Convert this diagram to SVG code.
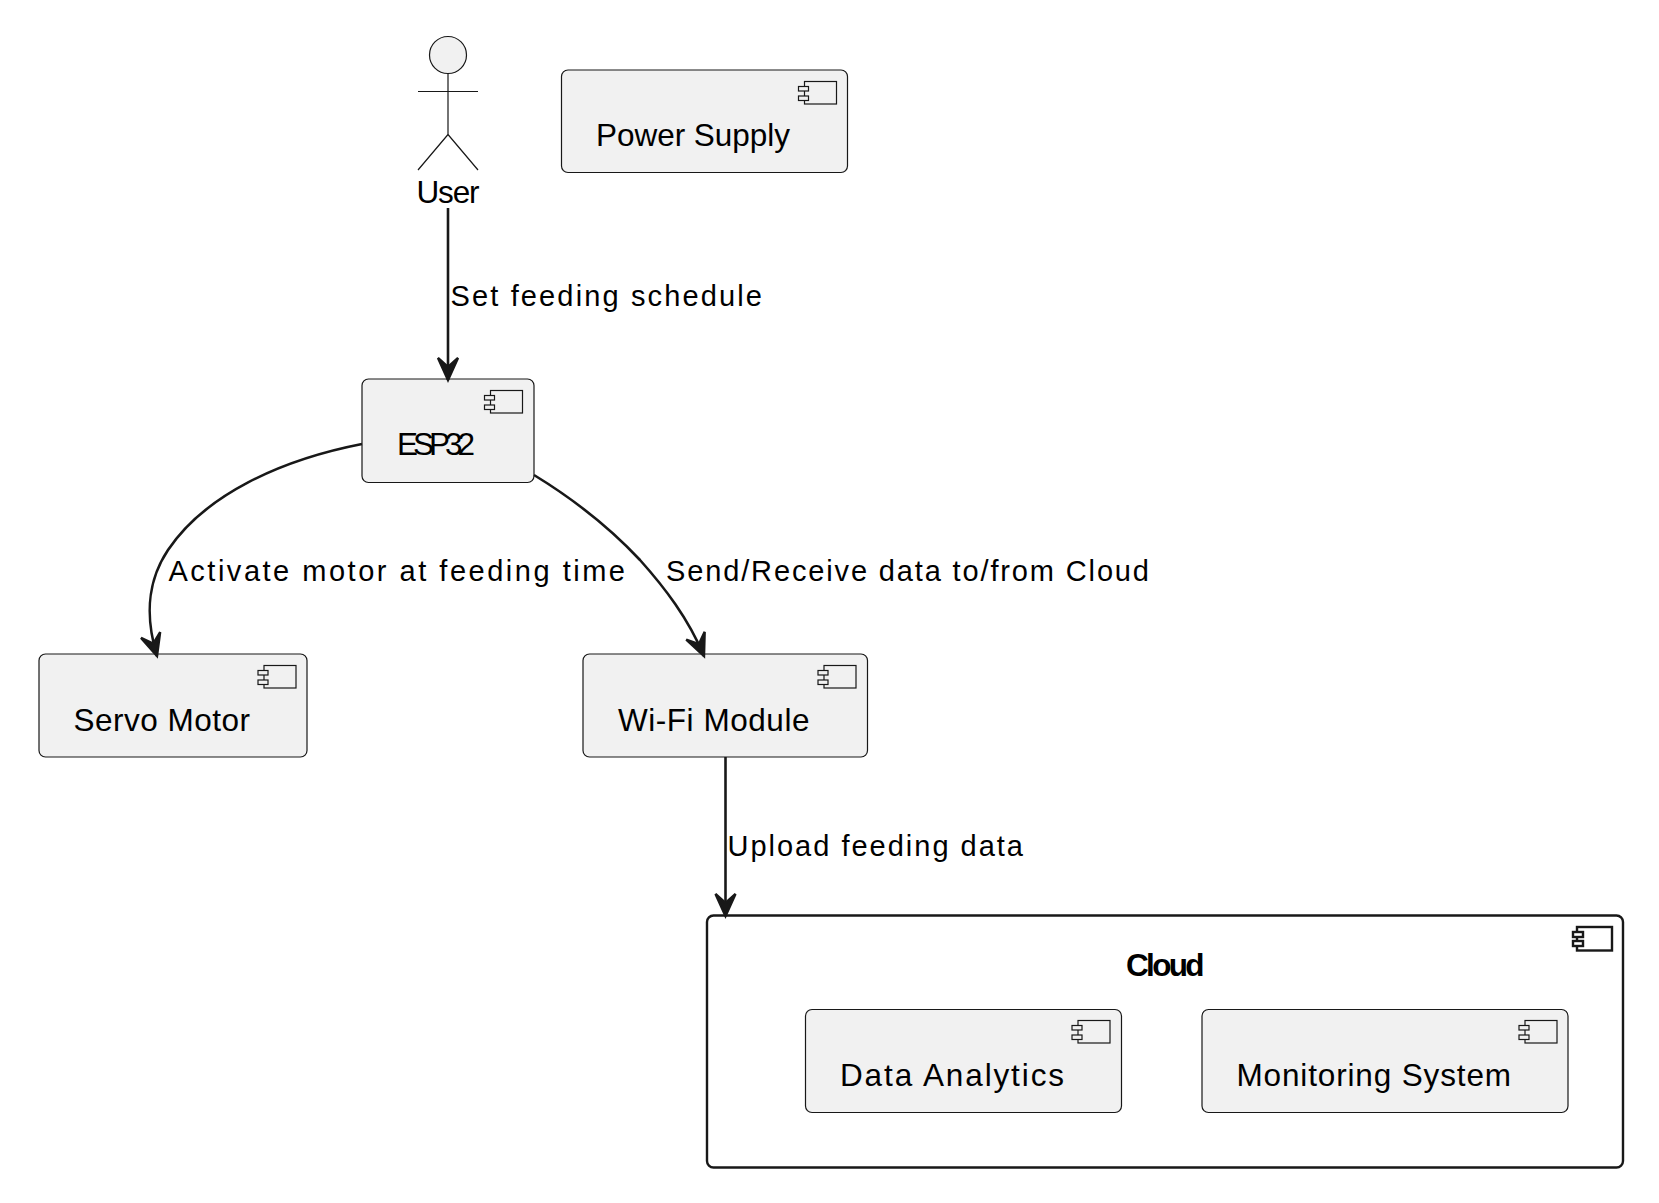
<svg xmlns="http://www.w3.org/2000/svg" width="1659" height="1203" viewBox="0 0 1659 1203">
<defs>
<style>
text{font-family:"Liberation Sans",Arial,sans-serif;fill:#000}
.n{font-size:31.5px}
.l{font-size:29px}
.b{font-size:31.5px;font-weight:bold}
.box{fill:#F1F1F1;stroke:#181818;stroke-width:1.2}
.ic{fill:#F1F1F1;stroke:#181818;stroke-width:1.2}
.line{fill:none;stroke:#181818;stroke-width:2.6}
.act{fill:none;stroke:#181818;stroke-width:1.2}
</style>
<marker id="arrow" markerUnits="userSpaceOnUse" markerWidth="32" markerHeight="32" viewBox="-27 -14 32 28" refX="0" refY="0" orient="auto"><path d="M-22,-10 L0,0 L-22,10 L-13,0 Z" fill="#181818" stroke="#181818" stroke-width="2.400" stroke-linejoin="miter"/></marker>
<g id="icon"><rect class="ic" x="-32" y="0" width="32" height="22.500"/><rect class="ic" x="-38" y="5" width="10" height="4.500"/><rect class="ic" x="-38" y="14.500" width="10" height="4.500"/></g>
</defs>
<rect width="1659" height="1203" fill="#fff"/>
<g id="actor-user">
<circle cx="448" cy="55" r="18.5" fill="#F1F1F1" stroke="#181818" stroke-width="1.2"/>
<path class="act" d="M448,73.500V134.500M418,91.500H478M448,134.500L418,170M448,134.500L478,170"/>
<text class="n" x="416.500" y="203" textLength="63" lengthAdjust="spacing">User</text>
</g>
<g id="power-supply">
<rect class="box" x="561.500" y="70" width="286" height="102.500" rx="6.500"/>
<use href="#icon" x="836.500" y="81.500"/>
<text class="n" x="596" y="146" textLength="194" lengthAdjust="spacing">Power Supply</text>
</g>
<g id="esp32">
<rect class="box" x="362" y="379" width="172" height="103.500" rx="6.500"/>
<use href="#icon" x="522.500" y="390.500"/>
<text class="n" x="397" y="455" textLength="78" lengthAdjust="spacing">ESP32</text>
</g>
<g id="servo-motor">
<rect class="box" x="39" y="654" width="268" height="103" rx="6.500"/>
<use href="#icon" x="296" y="665.500"/>
<text class="n" x="73.500" y="730.500" textLength="176.500" lengthAdjust="spacing">Servo Motor</text>
</g>
<g id="wifi-module">
<rect class="box" x="583" y="654" width="284.500" height="103" rx="6.500"/>
<use href="#icon" x="856" y="665.500"/>
<text class="n" x="618" y="730.500" textLength="191.500" lengthAdjust="spacing">Wi-Fi Module</text>
</g>
<g id="cloud">
<rect x="707" y="915.500" width="916" height="252" rx="6.500" fill="#fff" stroke="#181818" stroke-width="2.400"/>
<rect x="1577" y="927" width="35" height="23.500" fill="#fff" stroke="#181818" stroke-width="2.400"/>
<rect x="1573" y="932" width="10" height="5" fill="#fff" stroke="#181818" stroke-width="2.400"/>
<rect x="1573" y="941" width="10" height="5" fill="#fff" stroke="#181818" stroke-width="2.400"/>
<text class="b" x="1126" y="975.500" textLength="78.500" lengthAdjust="spacing">Cloud</text>
</g>
<g id="data-analytics">
<rect class="box" x="805.500" y="1009.500" width="316" height="103" rx="6.500"/>
<use href="#icon" x="1110" y="1020.500"/>
<text class="n" x="840" y="1085.500" textLength="224" lengthAdjust="spacing">Data Analytics</text>
</g>
<g id="monitoring-system">
<rect class="box" x="1202" y="1009.500" width="366" height="103" rx="6.500"/>
<use href="#icon" x="1557" y="1020.500"/>
<text class="n" x="1236.500" y="1085.500" textLength="274.500" lengthAdjust="spacing">Monitoring System</text>
</g>
<g id="connectors">
<path class="line" d="M448,208V380" marker-end="url(#arrow)"/>
<path class="line" d="M362,444C280,460 205,495 168,550C150,577 143,610 157,656" marker-end="url(#arrow)"/>
<path class="line" d="M534,475C575,500 610,528 640,560C665,588 688,618 704,656" marker-end="url(#arrow)"/>
<path class="line" d="M725.500,757V916" marker-end="url(#arrow)"/>
<text class="l" x="450.500" y="306" textLength="311.500" lengthAdjust="spacing">Set feeding schedule</text>
<text class="l" x="168.500" y="581" textLength="456.500" lengthAdjust="spacing">Activate motor at feeding time</text>
<text class="l" x="666" y="581" textLength="483" lengthAdjust="spacing">Send/Receive data to/from Cloud</text>
<text class="l" x="727.500" y="856" textLength="295.500" lengthAdjust="spacing">Upload feeding data</text>
</g>
</svg>
